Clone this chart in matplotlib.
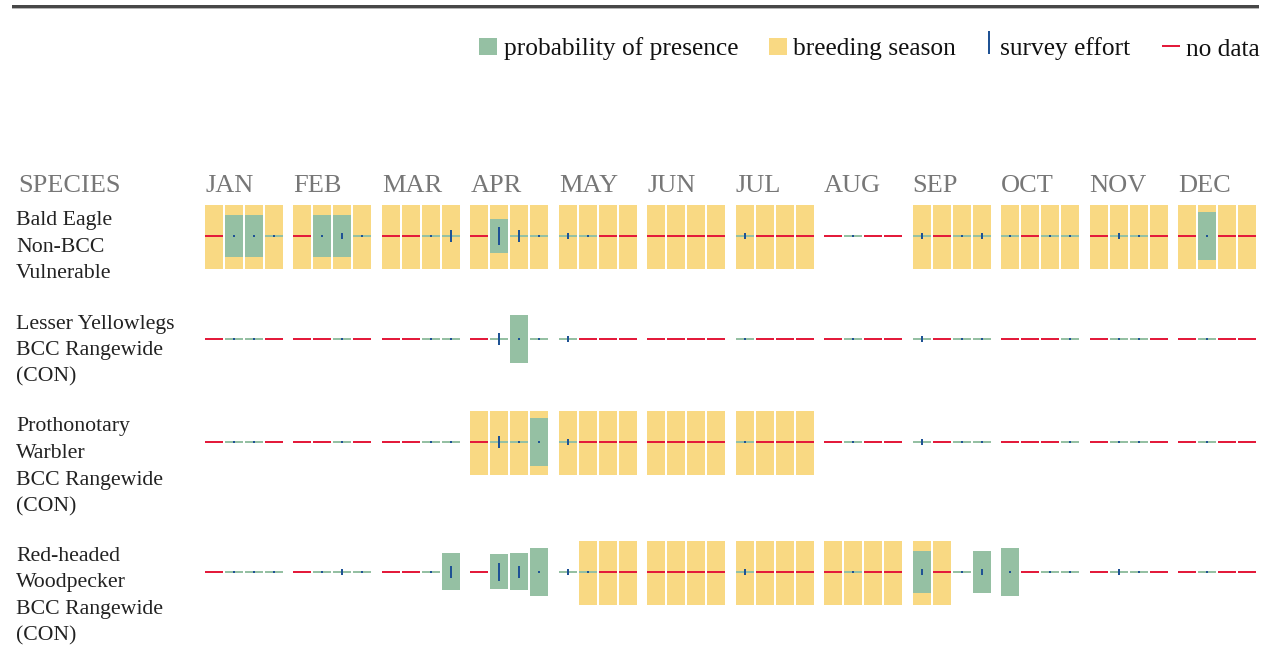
import numpy as np
import matplotlib.pyplot as plt

plt.rcParams['font.family'] = ['Liberation Serif', 'DejaVu Serif']

months = ['JAN', 'FEB', 'MAR', 'APR', 'MAY', 'JUN',
          'JUL', 'AUG', 'SEP', 'OCT', 'NOV', 'DEC']

labels = [
    ['Bald Eagle', 'Non-BCC', 'Vulnerable'],
    ['Lesser Yellowlegs', 'BCC Rangewide', '(CON)'],
    ['Prothonotary', 'Warbler', 'BCC Rangewide', '(CON)'],
    ['Red-headed', 'Woodpecker', 'BCC Rangewide', '(CON)'],
]

# weekly values, 4 weeks per month, JAN .. DEC
eagle_breeding = [1,1,1,1, 1,1,1,1, 1,1,1,1, 1,1,1,1, 1,1,1,1, 1,1,1,1,
                  1,1,1,1, 0,0,0,0, 1,1,1,1, 1,1,1,1, 1,1,1,1, 1,1,1,1]
eagle_nodata = [1,0,0,0, 1,0,0,0, 1,1,0,0, 1,0,0,0, 0,0,1,1, 1,1,1,1,
                0,1,1,1, 1,0,1,1, 0,1,0,0, 0,1,0,0, 1,0,0,1, 1,0,1,1]
eagle_presence = [0,.875,.875,0, 0,.875,.875,0, 0,0,0,0, 0,.71,0,0,
                  0,0,0,0, 0,0,0,0, 0,0,0,0, 0,0,0,0,
                  0,0,0,0, 0,0,0,0, 0,0,0,0, 0,1,0,0]
eagle_effort = [0,1,1,1, 0,1,3,1, 0,0,1,6, 0,9,6,1, 3,1,0,0, 0,0,0,0,
                3,0,0,0, 0,1,0,0, 3,0,1,3, 1,0,1,1, 0,3,1,0, 0,1,0,0]

yellowlegs_breeding = [0] * 48
yellowlegs_nodata = [1,0,0,1, 1,1,0,1, 1,1,0,0, 1,0,0,0, 0,1,1,1, 1,1,1,1,
                     0,1,1,1, 1,0,1,1, 0,1,0,0, 1,1,1,0, 1,0,0,1, 1,0,1,1]
yellowlegs_presence = [0,0,0,0, 0,0,0,0, 0,0,0,0, 0,0,1,0,
                       0,0,0,0, 0,0,0,0, 0,0,0,0, 0,0,0,0,
                       0,0,0,0, 0,0,0,0, 0,0,0,0, 0,0,0,0]
yellowlegs_effort = [0,1,1,0, 0,0,1,0, 0,0,1,1, 0,6,1,1, 3,0,0,0, 0,0,0,0,
                     1,0,0,0, 0,1,0,0, 3,0,1,1, 0,0,0,1, 0,1,1,0, 0,1,0,0]

warbler_breeding = [0,0,0,0, 0,0,0,0, 0,0,0,0, 1,1,1,1, 1,1,1,1, 1,1,1,1,
                    1,1,1,1, 0,0,0,0, 0,0,0,0, 0,0,0,0, 0,0,0,0, 0,0,0,0]
warbler_nodata = [1,0,0,1, 1,1,0,1, 1,1,0,0, 1,0,0,0, 0,1,1,1, 1,1,1,1,
                  0,1,1,1, 1,0,1,1, 0,1,0,0, 1,1,1,0, 1,0,0,1, 1,0,1,1]
warbler_presence = [0,0,0,0, 0,0,0,0, 0,0,0,0, 0,0,0,1,
                    0,0,0,0, 0,0,0,0, 0,0,0,0, 0,0,0,0,
                    0,0,0,0, 0,0,0,0, 0,0,0,0, 0,0,0,0]
warbler_effort = [0,1,1,0, 0,0,1,0, 0,0,1,1, 0,6,1,1, 3,0,0,0, 0,0,0,0,
                  1,0,0,0, 0,1,0,0, 3,0,1,1, 0,0,0,1, 0,1,1,0, 0,1,0,0]

woodpecker_breeding = [0,0,0,0, 0,0,0,0, 0,0,0,0, 0,0,0,0, 0,1,1,1, 1,1,1,1,
                       1,1,1,1, 1,1,1,1, 1,1,0,0, 0,0,0,0, 0,0,0,0, 0,0,0,0]
woodpecker_nodata = [1,0,0,0, 1,0,0,0, 1,1,0,0, 1,0,0,0, 0,0,1,1, 1,1,1,1,
                     0,1,1,1, 1,0,1,1, 0,1,0,0, 0,1,0,0, 1,0,0,1, 1,0,1,1]
woodpecker_presence = [0,0,0,0, 0,0,0,0, 0,0,0,.79, 0,.71,.79,1,
                       0,0,0,0, 0,0,0,0, 0,0,0,0, 0,0,0,0,
                       .875,0,0,.875, 1,0,0,0, 0,0,0,0, 0,0,0,0]
woodpecker_effort = [0,1,1,1, 0,1,3,1, 0,0,1,6, 0,9,6,1, 3,1,0,0, 0,0,0,0,
                     3,0,0,0, 0,1,0,0, 3,0,1,3, 1,0,1,1, 0,3,1,0, 0,1,0,0]

rows = [
    (eagle_breeding, eagle_nodata, eagle_presence, eagle_effort),
    (yellowlegs_breeding, yellowlegs_nodata, yellowlegs_presence, yellowlegs_effort),
    (warbler_breeding, warbler_nodata, warbler_presence, warbler_effort),
    (woodpecker_breeding, woodpecker_nodata, woodpecker_presence, woodpecker_effort),
]

YELLOW = '#f9d983'
GREEN = '#95c0a3'
RED = '#e31b3b'
BLUE = '#1f5294'

W, H = 1271, 645
fig = plt.figure(figsize=(W / 100, H / 100), dpi=100)
ax = fig.add_axes([0, 0, 1, 1])
ax.set_xlim(0, W)
ax.set_ylim(H, 0)
ax.axis('off')

# layout (pixels)
x0, month_step, week_step, cell_w = 205, 88.45, 20, 18
cell_h, bar_max, line_h = 64, 48, 2
line_gap = 26.5

# rule at the top of the page
ax.bar(12, 2.5, width=1247, bottom=5, align='edge', color='#474747', lw=0)
ax.bar(12, 1.2, width=1247, bottom=7.5, align='edge', color='#b5b5b5', lw=0)

# legend
ax.bar(479, 17, width=18, bottom=38, align='edge', color=GREEN, lw=0)
ax.text(504, 55.5, 'probability of presence', fontsize=18.3, color='#111111')
ax.bar(769, 17, width=18, bottom=38, align='edge', color=YELLOW, lw=0)
ax.text(793, 55.5, 'breeding season', fontsize=18.3, color='#111111')
ax.bar(988, 23, width=2, bottom=31, align='edge', color=BLUE, lw=0)
ax.text(1000, 55.5, 'survey effort', fontsize=18.3, color='#111111')
ax.bar(1162, 2, width=18, bottom=45, align='edge', color=RED, lw=0)
ax.text(1186, 55.5, 'no data', fontsize=18.3, color='#111111')

# header
ax.text(18, 192, 'SPECIES', fontsize=19, color='#777777')
for m, name in enumerate(months):
    ax.text(x0 + m * month_step, 192, name, fontsize=19, color='#777777')

weeks = np.arange(48)
xs = x0 + (weeks // 4) * month_step + (weeks % 4) * week_step

top = 205
for lines, (breeding, nodata, presence, effort) in zip(labels, rows):
    breeding = np.array(breeding, bool)
    nodata = np.array(nodata, bool)
    presence = np.array(presence, float)
    effort = np.array(effort, float)
    mid = top + 31

    for i, s in enumerate(lines):
        ax.text(16, top + 20.5 + i * line_gap, s, fontsize=15.7, color='#222222')

    ax.bar(xs[breeding], cell_h, width=cell_w, bottom=top,
           align='edge', color=YELLOW, lw=0)
    ax.bar(xs[nodata], line_h, width=cell_w, bottom=mid - line_h / 2,
           align='edge', color=RED, lw=0)
    ax.bar(xs[~nodata], line_h, width=cell_w, bottom=mid - line_h / 2,
           align='edge', color=GREEN, lw=0)

    hp = presence * bar_max
    has = presence > 0
    ax.bar(xs[has], hp[has], width=cell_w, bottom=mid - hp[has] / 2,
           align='edge', color=GREEN, lw=0)

    he = effort * 2
    has = effort > 0
    ax.bar(xs[has] + cell_w / 2, he[has], width=2, bottom=mid - he[has] / 2,
           align='center', color=BLUE, lw=0)

    top += len(lines) * line_gap + 23.5

fig.savefig('out.png', dpi=100)
